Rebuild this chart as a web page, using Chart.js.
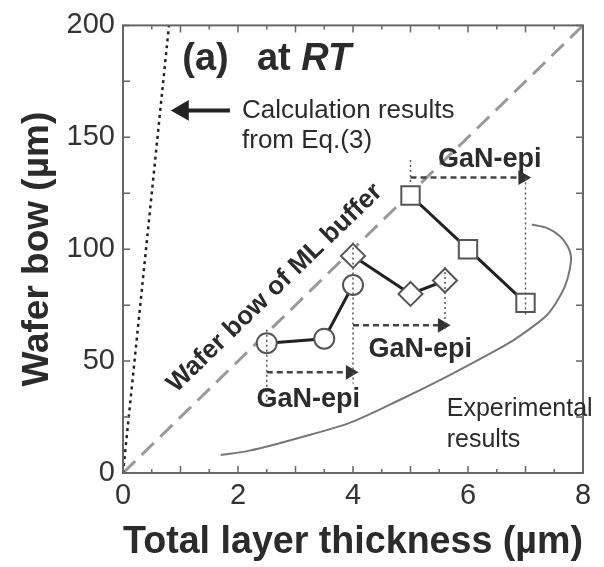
<!DOCTYPE html>
<html>
<head>
<meta charset="utf-8">
<script src="https://cdn.jsdelivr.net/npm/chart.js@4/dist/chart.umd.min.js"></script>
<style>
  html, body { margin: 0; padding: 0; background: #fff; }
  #wrap { width: 604px; height: 567px; }
</style>
</head>
<body>
<div id="wrap"><canvas id="c" width="604" height="567"></canvas></div>
<script>
// ---- data ----
const xTickLabels = [0, 2, 4, 6, 8];
const yTickLabels = [0, 50, 100, 150, 200];

const circleX = [2.5, 3.5, 4.0];
const circleY = [58, 60, 84];
const diamondX = [4.0, 5.0, 5.6];
const diamondY = [97, 80, 86];
const squareX = [5.0, 6.0, 7.0];
const squareY = [124, 100, 76];

const calcX = [0, 0.8];
const calcY = [0, 200];
const mlX = [0, 8];
const mlY = [0, 200];

const expX = [1.7, 2.2, 3.1, 3.95, 4.8, 5.7, 6.5, 6.8, 7.08, 7.37, 7.54, 7.69, 7.77, 7.79, 7.73, 7.6, 7.37, 7.11];
const expY = [8, 10, 16, 22.5, 32.5, 44, 55, 59.5, 64.5, 70.5, 76.4, 83.7, 91, 97, 101.4, 105.8, 109.5, 111];

const arrow1X = [2.5, 3.95], arrow1Y = [45, 45];
const arrow2X = [4.0, 5.55], arrow2Y = [66, 66];
const arrow3X = [5.0, 6.95], arrow3Y = [132, 132];
const calcArrowX = [1.04, 1.86], calcArrowY = [162, 162];

const guideX = [2.5, 2.5, null, 4.0, 4.0, null, 5.6, 5.6, null, 5.0, 5.0, null, 7.0, 7.0];
const guideY = [64, 29, null, 103, 40, null, 92, 63, null, 130, 140, null, 132, 70];

const pts = (xs, ys) => xs.map((x, i) => ({ x: x, y: ys[i] }));

const FONT = '"Liberation Sans", Arial, Helvetica, sans-serif';
const INK = '#2b2b2b';

const annotationPlugin = {
  id: 'annotations',
  afterDraw(chart) {
    const ctx = chart.ctx;
    const xs = chart.scales.x, ys = chart.scales.y;
    const ca = chart.chartArea;
    const P = (x, y) => [xs.getPixelForValue(x), ys.getPixelForValue(y)];
    ctx.save();
    // frame
    ctx.strokeStyle = '#666';
    ctx.lineWidth = 2;
    ctx.strokeRect(ca.left, ca.top, ca.right - ca.left, ca.bottom - ca.top);
    // inward ticks
    ctx.lineWidth = 1.5;
    xs.ticks.forEach(t => {
      const px = xs.getPixelForValue(t.value);
      const len = Math.abs(t.value % 1) < 1e-6 ? 7 : 4;
      ctx.beginPath();
      ctx.moveTo(px, ca.bottom); ctx.lineTo(px, ca.bottom - len);
      ctx.moveTo(px, ca.top); ctx.lineTo(px, ca.top + len);
      ctx.stroke();
    });
    ys.ticks.forEach(t => {
      const py = ys.getPixelForValue(t.value);
      ctx.beginPath();
      ctx.moveTo(ca.left, py); ctx.lineTo(ca.left + 7, py);
      ctx.moveTo(ca.right, py); ctx.lineTo(ca.right - 7, py);
      ctx.stroke();
    });

    ctx.fillStyle = INK;
    ctx.textBaseline = 'alphabetic';
    // (a) at RT
    ctx.textAlign = 'left';
    ctx.font = 'bold 38px ' + FONT;
    let p = P(1.03, 180);
    ctx.fillText('(a)', p[0], p[1]);
    p = P(2.33, 180);
    ctx.fillText('at ', p[0], p[1]);
    const w = ctx.measureText('at ').width;
    ctx.font = 'italic bold 38px ' + FONT;
    ctx.fillText('RT', p[0] + w, p[1]);

    // calculation results
    ctx.font = '26px ' + FONT;
    p = P(2.07, 158.5);
    ctx.fillText('Calculation results', p[0], p[1]);
    p = P(2.07, 145);
    ctx.fillText('from Eq.(3)', p[0], p[1]);

    // GaN-epi labels
    ctx.font = 'bold 27px ' + FONT;
    ctx.textAlign = 'center';
    ctx.textBaseline = 'middle';
    [[3.22, 33], [5.17, 55], [6.38, 140]].forEach(a => {
      const q = P(a[0], a[1]);
      ctx.fillText('GaN-epi', q[0], q[1]);
    });

    // experimental results
    ctx.textAlign = 'left';
    ctx.textBaseline = 'alphabetic';
    ctx.font = '25px ' + FONT;
    p = P(5.63, 25.6);
    ctx.fillText('Experimental', p[0], p[1]);
    p = P(5.63, 11.5);
    ctx.fillText('results', p[0], p[1]);

    // rotated label
    p = P(2.64, 82.6);
    ctx.translate(p[0], p[1]);
    ctx.rotate(-44 * Math.PI / 180);
    ctx.font = 'bold 26px ' + FONT;
    ctx.textAlign = 'center';
    ctx.textBaseline = 'middle';
    ctx.fillText('Wafer bow of ML buffer', 0, 0);
    ctx.restore();
  }
};

const markerBase = {
  showLine: true,
  borderColor: '#222',
  borderWidth: 3,
  pointBackgroundColor: '#fff',
  pointBorderColor: '#555',
  pointBorderWidth: 2,
  order: 2
};

new Chart(document.getElementById('c'), {
  type: 'scatter',
  data: {
    datasets: [
      { data: pts(guideX, guideY), showLine: true, spanGaps: false, borderColor: '#555', borderWidth: 1.5,
        borderDash: [2, 3], pointRadius: 0, order: 1 },
      Object.assign({}, markerBase, { data: pts(circleX, circleY), pointStyle: 'circle', pointRadius: 10 }),
      Object.assign({}, markerBase, { data: pts(diamondX, diamondY), pointStyle: 'rectRot', pointRadius: 12 }),
      Object.assign({}, markerBase, { data: pts(squareX, squareY), pointStyle: 'rect', pointRadius: 13 }),
      { data: pts(calcX, calcY), showLine: true, borderColor: '#222', borderWidth: 2.5, borderDash: [3, 4],
        pointRadius: 0, order: 5 },
      { data: pts(mlX, mlY), showLine: true, borderColor: '#9a9a9a', borderWidth: 3, borderDash: [17, 9],
        pointRadius: 0, order: 5 },
      { data: pts(expX, expY), showLine: true, borderColor: '#777', borderWidth: 2, tension: 0.3,
        pointRadius: 0, order: 5 },
      { data: pts(arrow1X, arrow1Y), showLine: true, borderColor: '#444', borderWidth: 2.5, borderDash: [6, 4],
        pointStyle: 'triangle', rotation: 90, pointRadius: [0, 6], pointBackgroundColor: '#333', pointBorderColor: '#333', order: 3 },
      { data: pts(arrow2X, arrow2Y), showLine: true, borderColor: '#444', borderWidth: 2.5, borderDash: [6, 4],
        pointStyle: 'triangle', rotation: 90, pointRadius: [0, 6], pointBackgroundColor: '#333', pointBorderColor: '#333', order: 3 },
      { data: pts(arrow3X, arrow3Y), showLine: true, borderColor: '#444', borderWidth: 2.5, borderDash: [6, 4],
        pointStyle: 'triangle', rotation: 90, pointRadius: [0, 6], pointBackgroundColor: '#333', pointBorderColor: '#333', order: 3 },
      { data: pts(calcArrowX, calcArrowY), showLine: true, borderColor: '#222', borderWidth: 4,
        pointStyle: 'triangle', rotation: -90, pointRadius: [8, 0], pointBackgroundColor: '#222', pointBorderColor: '#222', order: 3 }
    ]
  },
  options: {
    responsive: false,
    animation: false,
    events: [],
    layout: { padding: { top: 20, right: 21, left: 0, bottom: 0 } },
    plugins: { legend: { display: false }, tooltip: { enabled: false } },
    scales: {
      x: {
        type: 'linear', min: 0, max: 8,
        afterFit(s) { s.height = 94; },
        border: { display: false },
        grid: { display: false, drawTicks: false },
        ticks: {
          stepSize: 0.5, autoSkip: false, maxRotation: 0, padding: 6,
          color: '#333', font: { family: FONT, size: 29 },
          callback: v => xTickLabels.includes(v) ? String(v) : ''
        },
        title: { display: true, text: 'Total layer thickness (µm)', color: INK,
          font: { family: FONT, size: 38, weight: 'bold', lineHeight: 1.2 }, padding: { top: 0, bottom: 2 } }
      },
      y: {
        type: 'linear', min: 0, max: 200,
        afterFit(s) { s.width = 123; },
        border: { display: false },
        grid: { display: false, drawTicks: false },
        ticks: {
          stepSize: 25, autoSkip: false, padding: 8,
          color: '#333', font: { family: FONT, size: 29 },
          callback: v => yTickLabels.includes(v) ? String(v) : ''
        },
        title: { display: true, text: 'Wafer bow (µm)', color: INK,
          font: { family: FONT, size: 37, weight: 'bold', lineHeight: 1.2 }, padding: { top: 16, bottom: 0 } }
      }
    }
  },
  plugins: [annotationPlugin]
});
</script>
</body>
</html>
